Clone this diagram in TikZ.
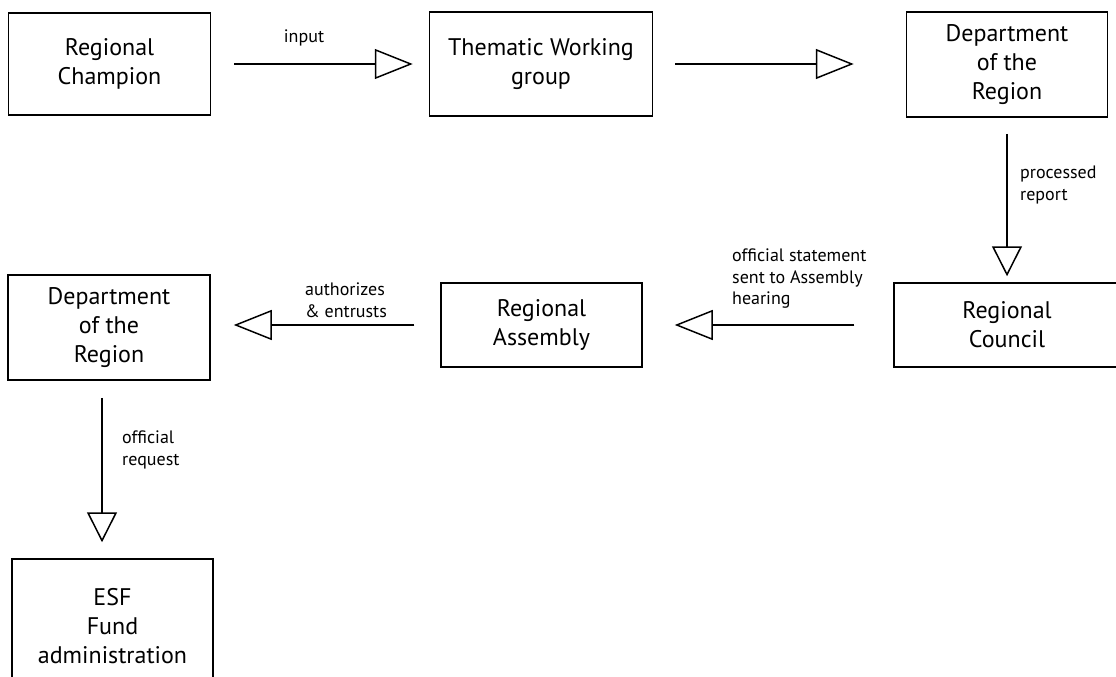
\documentclass[tikz,border=0pt]{standalone}
\usepackage{fontspec}
\setmainfont{PT Sans}
\usetikzlibrary{arrows.meta}

\begin{document}
\begin{tikzpicture}[x=1pt,y=-1pt]
						\tikzstyle{block}=[draw=black,line width=1.5pt,align=center,inner sep=0pt,font=\fontsize{24}{29}\selectfont]
						\tikzstyle{note}=[inner sep=0pt,align=left,font=\fontsize{18}{21.5}\selectfont]
						\tikzstyle{flowh}=[line width=1.5pt,-{Triangle[open,length=38pt,width=30pt]}]
						\tikzstyle{flowv}=[line width=1.5pt,-{Triangle[open,length=30pt,width=30pt]}]
						\useasboundingbox (0,0) rectangle (1116,677);
						\node[block,minimum width=202pt,minimum height=102pt](champ) at (109.5,64) {Regional\\Champion};
						\node[block,minimum width=223pt,minimum height=104pt](twg) at (541,64) {Thematic Working\\group};
						\node[block,minimum width=201pt,minimum height=105pt](dep1) at (1007,64.5) {Department\\of the\\Region};
						\node[block,minimum width=226pt,minimum height=84pt](council) at (1007,325) {Regional\\Council};
						\node[block,minimum width=201pt,minimum height=84pt](assembly) at (541.5,325) {Regional\\Assembly};
						\node[block,minimum width=202pt,minimum height=105pt](dep2) at (109,327.5) {Department\\of the\\Region};
						\node[block,minimum width=201pt,minimum height=134pt](esf) at (112.5,626) {ESF\\Fund\\administration};
						\node[note](input) at (304,38) {input};
						\node[note,anchor=west](report) at (1020,185) {processed\\report};
						\node[note,anchor=west](statement) at (732,279) {official statement\\sent to Assembly\\hearing};
						\node[note,anchor=west](entrust) at (305,300) {authorizes\\\& entrusts};
						\node[note,anchor=west](request) at (122,450) {official\\request};
						\draw[flowh,shorten <=23pt,shorten >=16pt](champ.east) -- (champ.east -| twg.west);
						\draw[flowh,shorten <=22pt,shorten >=52pt](twg.east) -- (twg.east -| dep1.west);
						\draw[flowv,shorten <=16pt,shorten >=6pt](dep1.south) -- (dep1.south |- council.north);
						\draw[flowh,shorten <=39pt,shorten >=32pt](council.west) -- (assembly.east);
						\draw[flowh,shorten <=26pt,shorten >=23pt](assembly.west) -- (assembly.west -| dep2.east);
						\draw[flowv,shorten <=17pt,shorten >=16pt]([xshift=-7pt]dep2.south) -- ([xshift=-7pt]dep2.south |- esf.north);
					\end{tikzpicture}
\end{document}
